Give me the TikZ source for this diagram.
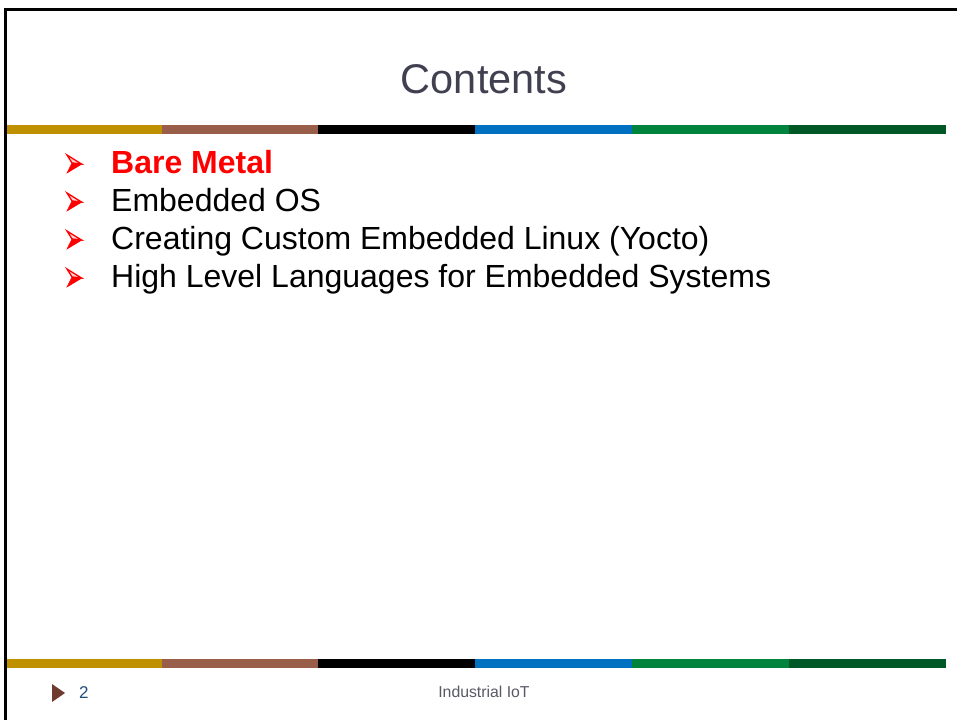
\documentclass[tikz,border=0pt]{standalone}
\usepackage{fontspec}
\setmainfont{Liberation Sans}
\definecolor{cgold}{HTML}{BF9000}
\definecolor{cbrown}{HTML}{985E4A}
\definecolor{cblue}{HTML}{0070C0}
\definecolor{cgreen}{HTML}{00843D}
\definecolor{cdkgreen}{HTML}{005826}
\definecolor{ctitle}{HTML}{404050}
\definecolor{cfoot}{HTML}{595965}
\definecolor{cnum}{HTML}{1F4E79}
\definecolor{ctri}{HTML}{6E3B2E}
\definecolor{cred}{HTML}{FF0000}
\definecolor{cpink}{HTML}{FFD0D0}
\begin{document}
\begin{tikzpicture}[x=1pt,y=-1pt,
  item/.style={anchor=base west,inner sep=0pt,font=\fontsize{32}{36}\selectfont},
  bulup/.style={fill=cpink,draw=cred,line width=1.3pt,line join=miter},
  buldn/.style={fill=cred,draw=cred,line width=0.5pt}]
\useasboundingbox[fill=white] (0,0) rectangle (957,720);
% frame
\fill[black] (4,8) rectangle (957,11);
\fill[black] (4,8) rectangle (7,720);
% title
\node[anchor=base,inner sep=0pt,text=ctitle,font=\fontsize{41.5}{46}\selectfont] (title) at (484,93) {Contents};
% bars
\foreach \y in {125,659}{
  \fill[cgold]   (7,\y)   rectangle (162,\y+9);
  \fill[cbrown]  (162,\y) rectangle (318,\y+9);
  \fill[black]   (318,\y) rectangle (475,\y+9);
  \fill[cblue]   (475,\y) rectangle (632,\y+9);
  \fill[cgreen]  (632,\y) rectangle (789,\y+9);
  \fill[cdkgreen](789,\y) rectangle (946,\y+9);
}
% bullets
\foreach \b in {163,201,239,277}{
  \filldraw[bulup] (67,\b-8) -- (81.5,\b+1) -- (72,\b) -- cycle;
  \filldraw[buldn] (72,\b) -- (82,\b+1) -- (67,\b+10) -- cycle;
}
\node[item,text=cred,font=\fontsize{32}{36}\selectfont\bfseries] (i1) at (111,173) {Bare Metal};
\node[item] (i2) at (111,211) {Embedded OS};
\node[item] (i3) at (111,249) {Creating Custom Embedded Linux (Yocto)};
\node[item] (i4) at (111,287) {High Level Languages for Embedded Systems};
% footer
\fill[ctri] (52,684) -- (65,693) -- (52,702) -- cycle;
\node[anchor=base west,inner sep=0pt,text=cnum,font=\fontsize{17}{20}\selectfont] (num) at (79,698) {2};
\node[anchor=base,inner sep=0pt,text=cfoot,font=\fontsize{15.8}{18}\selectfont] (foot) at (484,697) {Industrial IoT};
\end{tikzpicture}
\end{document}
